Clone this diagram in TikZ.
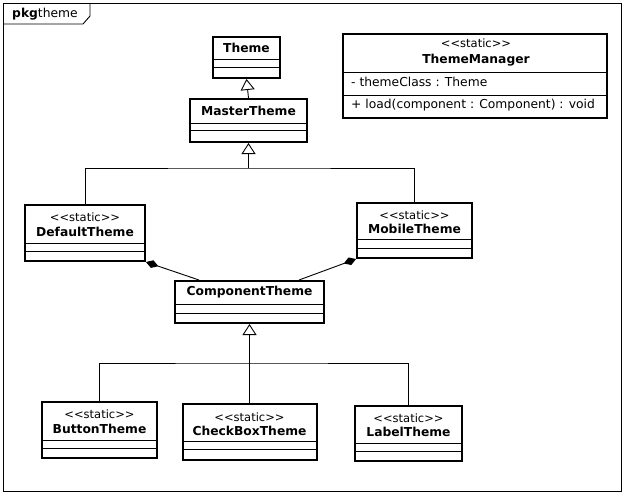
\documentclass[tikz,border=0pt]{standalone}
\usepackage{fontspec}
\setmainfont{DejaVu Sans}
\usetikzlibrary{arrows.meta,calc}

\tikzset{
  cls/.style={draw, line width=2pt, inner sep=0pt, fill=white},
  clsname/.style={font=\fontsize{12.3}{14}\bfseries, inner sep=0pt},
  stereo/.style={font=\fontsize{11.5}{13}\selectfont, inner sep=0pt},
  member/.style={font=\fontsize{12.3}{14}\selectfont, inner sep=0pt, anchor=west},
  sep/.style={line width=0.9pt},
  link/.style={line width=0.9pt},
  inherit/.style={link, -{Triangle[open, fill=white, length=11pt, width=14pt]}},
  compose/.style={link, -{Diamond[length=13pt, width=8pt]}},
}

\begin{document}
\begin{tikzpicture}[x=1pt, y=-1pt]
\useasboundingbox (0,0) rectangle (628,496);
\fill[white] (0,0) rectangle (628,496);

% package frame
\draw[line width=0.9pt] (3,3) rectangle (621,491);
\draw[line width=0.9pt] (3,24) -- (83,24) -- (90,16) -- (90,3);
\node[member] (pkg) at (12,14) {\textbf{pkg}theme};

% classes
\node[cls, minimum width=67, minimum height=41] (theme) at (246.5,57.5) {};
\node[clsname] (themeName) at (246.5,48) {Theme};
\draw[sep] ($(theme.south west)+(0,-20)$) -- ($(theme.south east)+(0,-20)$);
\draw[sep] ($(theme.south west)+(0,-12)$) -- ($(theme.south east)+(0,-12)$);

\node[cls, minimum width=117, minimum height=43] (master) at (248.5,120.5) {};
\node[clsname] (masterName) at (248.5,111) {MasterTheme};
\draw[sep] ($(master.south west)+(0,-20)$) -- ($(master.south east)+(0,-20)$);
\draw[sep] ($(master.south west)+(0,-13)$) -- ($(master.south east)+(0,-13)$);

\node[cls, minimum width=264, minimum height=84] (manager) at (475,76) {};
\node[stereo] (managerStereo) at (476,43) {<{}<static>{}>};
\node[clsname] (managerName) at (476,60) {ThemeManager};
\draw[sep] ($(manager.south west)+(0,-47)$) -- ($(manager.south east)+(0,-47)$);
\draw[sep] ($(manager.south west)+(0,-24)$) -- ($(manager.south east)+(0,-24)$);
\node[member] (managerAttr) at (351,82) {- themeClass : Theme};
\node[member] (managerOp) at (351,105) {+ load(component : Component) : void};

\node[cls, minimum width=120, minimum height=56] (default) at (85,233) {};
\node[stereo] (defaultStereo) at (85,217) {<{}<static>{}>};
\node[clsname] (defaultName) at (85,232) {DefaultTheme};
\draw[sep] ($(default.south west)+(0,-19)$) -- ($(default.south east)+(0,-19)$);
\draw[sep] ($(default.south west)+(0,-11)$) -- ($(default.south east)+(0,-11)$);

\node[cls, minimum width=115, minimum height=55] (mobile) at (414.5,230.5) {};
\node[stereo] (mobileStereo) at (414.5,215) {<{}<static>{}>};
\node[clsname] (mobileName) at (414.5,229) {MobileTheme};
\draw[sep] ($(mobile.south west)+(0,-20)$) -- ($(mobile.south east)+(0,-20)$);
\draw[sep] ($(mobile.south west)+(0,-11)$) -- ($(mobile.south east)+(0,-11)$);

\node[cls, minimum width=149, minimum height=42] (component) at (249.5,302) {};
\node[clsname] (componentName) at (249.5,292) {ComponentTheme};
\draw[sep] ($(component.south west)+(0,-20)$) -- ($(component.south east)+(0,-20)$);
\draw[sep] ($(component.south west)+(0,-11)$) -- ($(component.south east)+(0,-11)$);

\node[cls, minimum width=115, minimum height=56] (button) at (99.5,430) {};
\node[stereo] (buttonStereo) at (99.5,414) {<{}<static>{}>};
\node[clsname] (buttonName) at (99.5,429) {ButtonTheme};
\draw[sep] ($(button.south west)+(0,-19)$) -- ($(button.south east)+(0,-19)$);
\draw[sep] ($(button.south west)+(0,-11)$) -- ($(button.south east)+(0,-11)$);

\node[cls, minimum width=134, minimum height=56] (checkbox) at (249.5,432) {};
\node[stereo] (checkboxStereo) at (249.5,417) {<{}<static>{}>};
\node[clsname] (checkboxName) at (249.5,431) {CheckBoxTheme};
\draw[sep] ($(checkbox.south west)+(0,-20)$) -- ($(checkbox.south east)+(0,-20)$);
\draw[sep] ($(checkbox.south west)+(0,-12)$) -- ($(checkbox.south east)+(0,-12)$);

\node[cls, minimum width=107, minimum height=55] (label) at (408.5,433.5) {};
\node[stereo] (labelStereo) at (408.5,418) {<{}<static>{}>};
\node[clsname] (labelName) at (408.5,432) {LabelTheme};
\draw[sep] ($(label.south west)+(0,-19)$) -- ($(label.south east)+(0,-19)$);
\draw[sep] ($(label.south west)+(0,-11)$) -- ($(label.south east)+(0,-11)$);

% generalisations
\draw[inherit] (master.north) -- (theme.south);
\coordinate (forkTop) at (248.5,168);
\draw[link] (default.north) |- (forkTop) -| (mobile.north);
\draw[inherit] (forkTop) -- (master.south);
\coordinate (forkBottom) at (249.5,363);
\draw[link] (button.north) |- (forkBottom) -| (label.north);
\draw[inherit] (checkbox.north) -- (component.south);

% compositions
\draw[compose] ($(component.north west)+(25,0)$) -- (default.south east);
\draw[compose] ($(component.north east)+(-26,0)$) -- (mobile.south west);
\end{tikzpicture}
\end{document}
